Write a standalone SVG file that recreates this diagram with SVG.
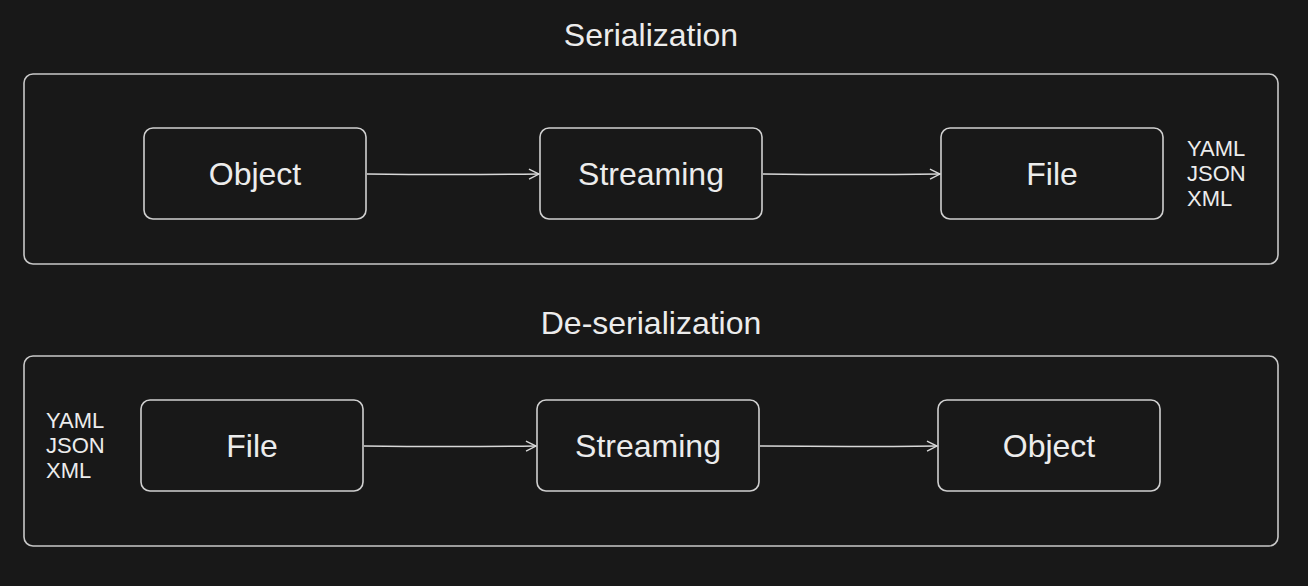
<svg xmlns="http://www.w3.org/2000/svg" width="1308" height="586" viewBox="0 0 1308 586">
<defs>
<style>
.frame{fill:none;stroke:#c8c8c8;stroke-width:1.6}
.box{fill:#181818;stroke:#d0d0d0;stroke-width:1.6}
.t{font-family:"Liberation Sans",Arial,sans-serif;fill:#ececec}
.title{font-size:32px;text-anchor:middle}
.lbl{font-size:32px;text-anchor:middle}
.fmt{font-size:22px}
.conn{fill:none;stroke:#d8d8d8;stroke-width:1.4}
</style>
<marker id="ah" viewBox="0 0 12 12" refX="11" refY="6" markerWidth="12" markerHeight="12" markerUnits="userSpaceOnUse" orient="auto">
<path d="M1,1 L11,6 L1,11" fill="none" stroke="#d8d8d8" stroke-width="1.4"/>
</marker>
</defs>
<rect width="1308" height="586" fill="#181818"/>
<g id="serialization">
<text class="t title" x="651" y="46">Serialization</text>
<rect class="frame" x="24" y="74" width="1254" height="190" rx="9"/>
</g>
<g id="deserialization">
<text class="t title" x="651" y="334">De-serialization</text>
<rect class="frame" x="24" y="356" width="1254" height="190" rx="9"/>
</g>
<g id="s-object"><rect class="box" x="144" y="128" width="222" height="91" rx="9"/><text class="t lbl" x="255" y="185">Object</text></g>
<g id="s-streaming"><rect class="box" x="540" y="128" width="222" height="91" rx="9"/><text class="t lbl" x="651" y="185">Streaming</text></g>
<g id="s-file"><rect class="box" x="941" y="128" width="222" height="91" rx="9"/><text class="t lbl" x="1052" y="185">File</text></g>
<g id="s-formats"><text class="t fmt" x="1187" y="156">YAML</text><text class="t fmt" x="1187" y="181">JSON</text><text class="t fmt" x="1187" y="206">XML</text></g>
<g id="d-file"><rect class="box" x="141" y="400" width="222" height="91" rx="9"/><text class="t lbl" x="252" y="457">File</text></g>
<g id="d-streaming"><rect class="box" x="537" y="400" width="222" height="91" rx="9"/><text class="t lbl" x="648" y="457">Streaming</text></g>
<g id="d-object"><rect class="box" x="938" y="400" width="222" height="91" rx="9"/><text class="t lbl" x="1049" y="457">Object</text></g>
<g id="d-formats"><text class="t fmt" x="46" y="428">YAML</text><text class="t fmt" x="46" y="453">JSON</text><text class="t fmt" x="46" y="478">XML</text></g>
<g id="connectors">
<path class="conn" d="M367,174 Q450,175 539,174" marker-end="url(#ah)"/>
<path class="conn" d="M763,174 Q850,175 940,174" marker-end="url(#ah)"/>
<path class="conn" d="M364,446 Q450,447 536,446" marker-end="url(#ah)"/>
<path class="conn" d="M760,446 Q850,447 937,446" marker-end="url(#ah)"/>
</g>
</svg>
